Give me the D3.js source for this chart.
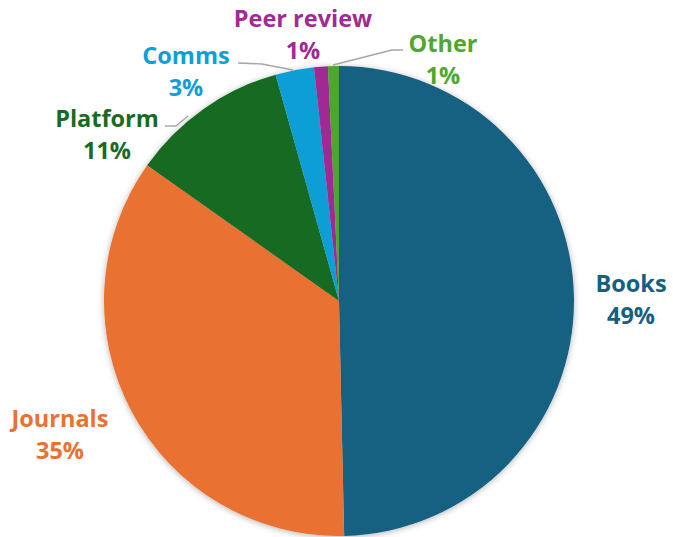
<!DOCTYPE html>
<html>
<head>
<meta charset="utf-8">
<script src="https://cdn.jsdelivr.net/npm/d3@7"></script>
<style>
  html, body { margin: 0; padding: 0; background: #fff; }
</style>
</head>
<body>
<div id="chart"></div>
<script>
// Share of spend by category
const categories = ['Books', 'Journals', 'Platform', 'Comms', 'Peer review', 'Other']
const shares = [49.65, 35.15, 10.85, 2.65, 0.95, 0.75]
const pctLabels = ['49%', '35%', '11%', '3%', '1%', '1%']
const colors = ['#156082', '#E97132', '#196B24', '#0F9ED5', '#A02B93', '#4EA72E']

const W = 673, H = 537
const cx = 339, cy = 301, R = 235

// label anchor (centre of the two-line label) per category
const labelPos = [
  [631, 299], [60, 434], [107, 134], [186, 71], [303, 34], [443, 59]
]
// leader lines for the small slices (label side -> pie edge)
const leaders = {
  Platform: [[165, 126], [176, 126], [188, 116]],
  Comms: [[238, 63], [262, 64], [293, 70]],
  Other: [[403, 50], [392, 50], [333, 65]]
}

const svg = d3.select('#chart')
  .append('svg')
  .attr('width', W)
  .attr('height', H)

const defs = svg.append('defs')
const shadow = defs.append('filter')
  .attr('id', 'shadow')
  .attr('x', '-10%').attr('y', '-10%')
  .attr('width', '120%').attr('height', '120%')
shadow.append('feDropShadow')
  .attr('dx', 0).attr('dy', 1)
  .attr('stdDeviation', 3)
  .attr('flood-color', '#000')
  .attr('flood-opacity', 0.3)

const pie = d3.pie().sort(null).value(d => d.value)
const arc = d3.arc().innerRadius(0).outerRadius(R)

const data = categories.map((c, i) => ({ name: c, value: shares[i], color: colors[i], pct: pctLabels[i] }))
const arcs = pie(data)

const g = svg.append('g')
  .attr('transform', `translate(${cx},${cy})`)
  .attr('filter', 'url(#shadow)')

g.selectAll('path')
  .data(arcs)
  .join('path')
  .attr('d', arc)
  .attr('fill', d => d.data.color)

// leader lines
const line = d3.line()
Object.entries(leaders).forEach(([k, pts]) => {
  svg.append('path')
    .attr('d', line(pts))
    .attr('fill', 'none')
    .attr('stroke', '#a6a6a6')
    .attr('stroke-width', 1.3)
})

// labels
const labels = svg.append('g')
  .attr('font-family', 'Open Sans, sans-serif')
  .attr('font-weight', 'bold')
  .attr('font-size', '23.5px')
  .attr('text-anchor', 'middle')

arcs.forEach((d, i) => {
  const [x, y] = labelPos[i]
  const t = labels.append('text')
    .attr('x', x)
    .attr('y', y)
    .attr('fill', d.data.color)
  t.append('tspan')
    .attr('x', x)
    .attr('dy', '-0.3em')
    .text(d.data.name)
  t.append('tspan')
    .attr('x', x)
    .attr('dy', '1.38em')
    .text(d.data.pct)
})
</script>
</body>
</html>
